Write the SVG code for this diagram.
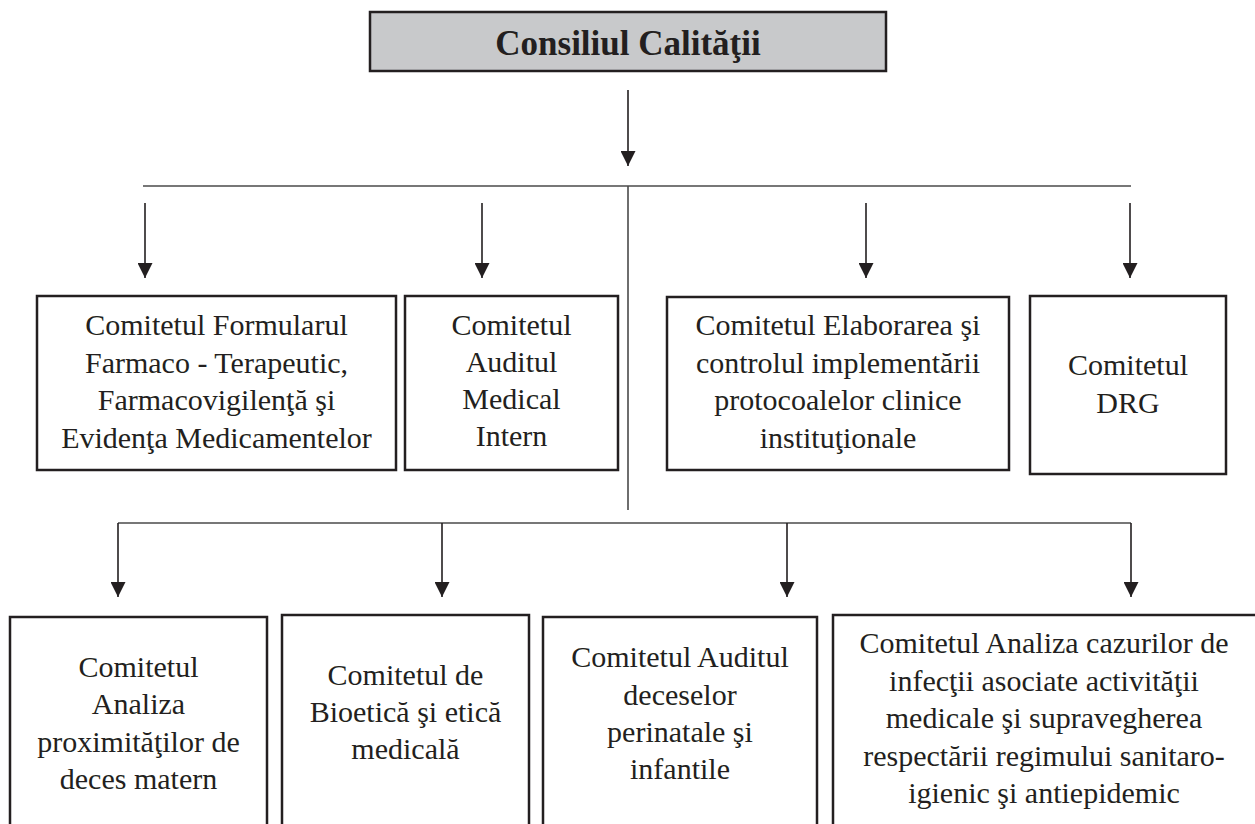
<svg xmlns="http://www.w3.org/2000/svg" width="1255" height="824" viewBox="0 0 1255 824">
<style>
.bg{fill:#ffffff}
.box{fill:#ffffff;stroke:#231f20;stroke-width:2.5}
.top{fill:#c8c9cb;stroke:#231f20;stroke-width:2.5}
.t{font-family:"Liberation Serif","Times New Roman",serif;font-size:30px;fill:#231f20;text-anchor:middle}
.tt{font-family:"Liberation Serif","Times New Roman",serif;font-size:35px;font-weight:bold;fill:#231f20;text-anchor:middle}
.ln{fill:none;stroke:#4a4a4a;stroke-width:1.6}
.ar{fill:none;stroke:#231f20;stroke-width:1.6;marker-end:url(#ah)}
</style>
<defs>
<marker id="ah" viewBox="0 0 15 15" refX="15" refY="7.5" markerWidth="15" markerHeight="15" markerUnits="userSpaceOnUse" orient="auto">
<path d="M0,0 L15,7.5 L0,15 Z" fill="#231f20"/>
</marker>
</defs>
<rect class="bg" x="0" y="0" width="1255" height="824"/>
<g id="connectors">
<line class="ar" x1="628" y1="90" x2="628" y2="166"/>
<line class="ln" x1="143" y1="186" x2="1131" y2="186"/>
<line class="ln" x1="628" y1="186" x2="628" y2="510"/>
<line class="ar" x1="145" y1="203" x2="145" y2="278"/>
<line class="ar" x1="482" y1="203" x2="482" y2="278"/>
<line class="ar" x1="866" y1="203" x2="866" y2="278"/>
<line class="ar" x1="1130" y1="203" x2="1130" y2="278"/>
<line class="ln" x1="118" y1="523" x2="1131" y2="523"/>
<line class="ar" x1="118" y1="523" x2="118" y2="597"/>
<line class="ar" x1="442" y1="523" x2="442" y2="597"/>
<line class="ar" x1="787" y1="523" x2="787" y2="597"/>
<line class="ar" x1="1131" y1="523" x2="1131" y2="597"/>
</g>
<g id="consiliul">
<rect class="top" x="370" y="12" width="516" height="59"/>
<text class="tt" x="628" y="55">Consiliul Calităţii</text>
</g>
<g id="formularul">
<rect class="box" x="37" y="296" width="359" height="174"/>
<text class="t" x="216.5" y="335">Comitetul Formularul</text>
<text class="t" x="216.5" y="373">Farmaco - Terapeutic,</text>
<text class="t" x="216.5" y="410">Farmacovigilenţă şi</text>
<text class="t" x="216.5" y="448">Evidenţa Medicamentelor</text>
</g>
<g id="auditul-medical">
<rect class="box" x="405" y="296" width="213" height="174"/>
<text class="t" x="511.5" y="335">Comitetul</text>
<text class="t" x="511.5" y="372">Auditul</text>
<text class="t" x="511.5" y="409">Medical</text>
<text class="t" x="511.5" y="446">Intern</text>
</g>
<g id="elaborarea">
<rect class="box" x="667" y="297" width="342" height="173"/>
<text class="t" x="838" y="335">Comitetul Elaborarea şi</text>
<text class="t" x="838" y="373">controlul implementării</text>
<text class="t" x="838" y="410">protocoalelor clinice</text>
<text class="t" x="838" y="448">instituţionale</text>
</g>
<g id="drg">
<rect class="box" x="1030" y="296" width="196" height="178"/>
<text class="t" x="1128" y="375">Comitetul</text>
<text class="t" x="1128" y="413">DRG</text>
</g>
<g id="deces-matern">
<rect class="box" x="10" y="617" width="257" height="215"/>
<text class="t" x="138.5" y="677">Comitetul</text>
<text class="t" x="138.5" y="714">Analiza</text>
<text class="t" x="138.5" y="752">proximităţilor de</text>
<text class="t" x="138.5" y="789">deces matern</text>
</g>
<g id="bioetica">
<rect class="box" x="282" y="615" width="247" height="217"/>
<text class="t" x="405.5" y="685">Comitetul de</text>
<text class="t" x="405.5" y="722">Bioetică şi etică</text>
<text class="t" x="405.5" y="759">medicală</text>
</g>
<g id="perinatale">
<rect class="box" x="543" y="617" width="274" height="215"/>
<text class="t" x="680" y="667">Comitetul Auditul</text>
<text class="t" x="680" y="705">deceselor</text>
<text class="t" x="680" y="742">perinatale şi</text>
<text class="t" x="680" y="779">infantile</text>
</g>
<g id="infectii">
<rect class="box" x="833" y="615" width="430" height="217"/>
<text class="t" x="1044" y="653">Comitetul Analiza cazurilor de</text>
<text class="t" x="1044" y="691">infecţii asociate activităţii</text>
<text class="t" x="1044" y="728">medicale şi supravegherea</text>
<text class="t" x="1044" y="766">respectării regimului sanitaro-</text>
<text class="t" x="1044" y="803">igienic şi antiepidemic</text>
</g>
</svg>
